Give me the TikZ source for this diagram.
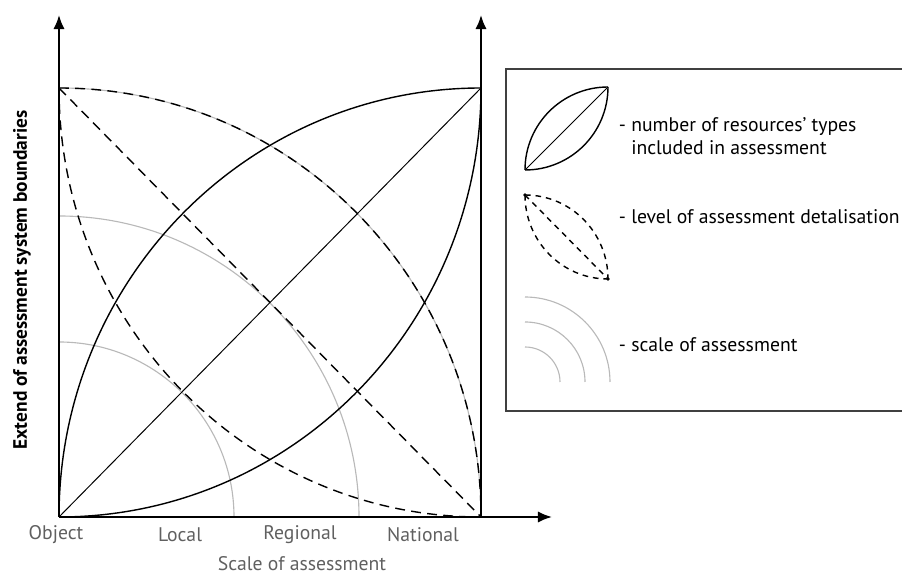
\documentclass[tikz,border=0pt]{standalone}
\usepackage{fontspec}
\setmainfont{PT Sans}
\usetikzlibrary{arrows.meta}

\begin{document}
\begin{tikzpicture}[x=0.025cm, y=0.025cm,
      axisline/.style={line width=1.4pt, -{Latex[length=10pt, width=8pt]}},
      lensline/.style={line width=1pt},
      dashline/.style={line width=1pt, dash pattern=on 7pt off 4.5pt},
      scalearc/.style={line width=0.8pt, gray!55},
      scalelbl/.style={text=gray!75!black, font=\fontsize{14}{17}\selectfont},
      legtext/.style={anchor=west, align=left, font=\fontsize{14}{16.3}\selectfont}]
      \useasboundingbox (0,0) rectangle (902,577);
      \coordinate (O) at (59,60);
      \coordinate (TL) at (59,489);
      \coordinate (TR) at (481,489);
      \coordinate (BR) at (481,60);
      \coordinate (ytop) at (59,562);
      \coordinate (rtop) at (481,562);
      \coordinate (xend) at (552,60);
      \draw[scalearc] (59,235) arc[start angle=90, end angle=0, radius=175];
      \draw[scalearc] (59,361) arc[start angle=90, end angle=0, x radius=300, y radius=301];
      \draw[scalearc] (TL) arc[start angle=90, end angle=0, x radius=422, y radius=429];
      \draw[dashline] (TL) arc[start angle=90, end angle=0, x radius=422, y radius=429];
      \draw[dashline] (TL) arc[start angle=180, end angle=270, x radius=422, y radius=429];
      \draw[dashline] (TL) -- (BR);
      \draw[lensline] (O) arc[start angle=180, end angle=90, x radius=422, y radius=429];
      \draw[lensline] (O) arc[start angle=270, end angle=360, x radius=422, y radius=429];
      \draw[line width=0.7pt] (O) -- (TR);
      \draw[axisline] (O) -- (ytop);
      \draw[axisline] (BR) -- (rtop);
      \draw[axisline] (O) -- (xend);
      \node[scalelbl] (obj) at (56,42) {Object};
      \node[scalelbl] (loc) at (180,42) {Local};
      \node[scalelbl] (reg) at (300,42) {Regional};
      \node[scalelbl] (nat) at (423,42) {National};
      \node[scalelbl, inner sep=0pt] (xlbl) at (302,13) {Scale of assessment};
      \node[rotate=90, font=\fontsize{13.8}{15}\selectfont\bfseries] (ylbl) at (22,297) {Extend of assessment system boundaries};
      \draw[line width=1pt, black!75] (903,508) -- (506,508) -- (506,166) -- (903,166);
      \coordinate (LA) at (525,407);
      \coordinate (LB) at (608,490);
      \draw[lensline] (LA) arc[start angle=180, end angle=90, radius=83];
      \draw[lensline] (LA) arc[start angle=270, end angle=360, radius=83];
      \draw[line width=0.7pt] (LA) -- (LB);
      \coordinate (DA) at (525,382);
      \coordinate (DB) at (608,298);
      \draw[dashline, dash pattern=on 4pt off 3.5pt] (DA) arc[start angle=90, end angle=0, x radius=83, y radius=84];
      \draw[dashline, dash pattern=on 4pt off 3.5pt] (DA) arc[start angle=180, end angle=270, x radius=83, y radius=84];
      \draw[dashline, dash pattern=on 4pt off 3.5pt] (DA) -- (DB);
      \fill (DA) circle (1.3pt) (DB) circle (1.3pt);
      \foreach \r in {35,60,85}
            \draw[scalearc] (525,{195+\r}) arc[start angle=90, end angle=0, radius=\r];
      \node[legtext] (leg1) at (614,441) {- number of resources’ types\\\phantom{- }included in assessment};
      \node[legtext] (leg2) at (614,360) {- level of assessment detalisation};
      \node[legtext] (leg3) at (614,232) {- scale of assessment};
\end{tikzpicture}
\end{document}
